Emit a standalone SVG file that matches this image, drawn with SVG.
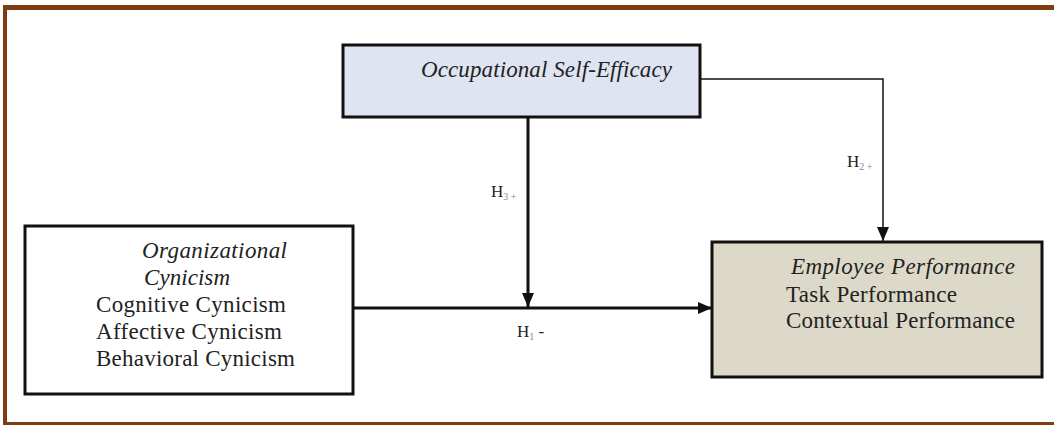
<svg xmlns="http://www.w3.org/2000/svg" width="1054" height="425" viewBox="0 0 1054 425">
<style>
.frame{fill:#7f3c10}
.box{stroke:#111;stroke-width:3}
.t{font-family:"Liberation Serif","Times New Roman",serif;font-size:23px;fill:#222}
.i{font-style:italic}
.h{font-family:"Liberation Serif","Times New Roman",serif;font-size:17px;fill:#222}
.sub{font-size:10px;fill:#888}
.c{fill:none;stroke:#111}
</style>
<defs>
<marker id="ah" viewBox="0 0 14 12" refX="14" refY="6" markerWidth="14" markerHeight="12" markerUnits="userSpaceOnUse" orient="auto">
<path d="M0,0 L14,6 L0,12 Z" fill="#111"/>
</marker>
</defs>
<rect width="1054" height="425" fill="#fff"/>
<rect class="frame" x="3" y="5" width="1051" height="5"/>
<rect class="frame" x="3" y="5" width="4" height="420"/>
<rect class="frame" x="3" y="422" width="1051" height="3"/>

<g id="connectors">
<line class="c" x1="528" y1="118" x2="528" y2="307" stroke-width="3" marker-end="url(#ah)"/>
<line class="c" x1="354" y1="308" x2="712" y2="308" stroke-width="3" marker-end="url(#ah)"/>
<polyline class="c" points="701,79 883,79 883,241" stroke-width="1.5" marker-end="url(#ah)"/>
<text class="h" x="491" y="197">H<tspan class="sub" dy="3">3 +</tspan></text>
<text class="h" x="517" y="337">H<tspan class="sub" dy="3">1</tspan><tspan dy="-3"> -</tspan></text>
<text class="h" x="847" y="167">H<tspan class="sub" dy="3">2 +</tspan></text>
</g>

<g id="occupational-self-efficacy">
<rect class="box" x="343" y="45" width="357" height="72" fill="#dfe4f2"/>
<text class="t i" x="421" y="77" textLength="251" lengthAdjust="spacing">Occupational Self-Efficacy</text>
</g>

<g id="organizational-cynicism">
<rect class="box" x="25" y="226" width="328" height="168" fill="#fff"/>
<text class="t i" x="142" y="258" textLength="145" lengthAdjust="spacing">Organizational</text>
<text class="t i" x="144" y="285" textLength="86" lengthAdjust="spacing">Cynicism</text>
<text class="t" x="96" y="312" textLength="190" lengthAdjust="spacing">Cognitive Cynicism</text>
<text class="t" x="96" y="339" textLength="186" lengthAdjust="spacing">Affective Cynicism</text>
<text class="t" x="96" y="366" textLength="199" lengthAdjust="spacing">Behavioral Cynicism</text>
</g>

<g id="employee-performance">
<rect class="box" x="712" y="242" width="330" height="135" fill="#dcd9c9"/>
<text class="t i" x="791" y="274" textLength="224" lengthAdjust="spacing">Employee Performance</text>
<text class="t" x="786" y="302" textLength="171" lengthAdjust="spacing">Task Performance</text>
<text class="t" x="786" y="328" textLength="229" lengthAdjust="spacing">Contextual Performance</text>
</g>
</svg>
